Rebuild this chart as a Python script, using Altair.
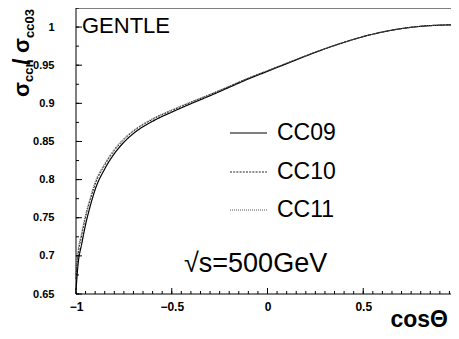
import altair as alt
import pandas as pd

# ---- data ----
cos_theta = [-1.0, -0.99, -0.97, -0.95, -0.925, -0.9, -0.85, -0.8, -0.75, -0.7,
             -0.6, -0.5, -0.4, -0.3, -0.2, -0.1, 0.0, 0.1, 0.2, 0.3, 0.4, 0.5,
             0.6, 0.7, 0.8, 0.9, 1.0]
cc09 = [0.655, 0.687, 0.716, 0.741, 0.766, 0.787, 0.814, 0.834, 0.849, 0.8605,
        0.8765, 0.8885, 0.8995, 0.910, 0.921, 0.932, 0.942, 0.952, 0.962, 0.9715,
        0.980, 0.9875, 0.9935, 0.998, 1.001, 1.0025, 1.003]
cc10 = [0.670, 0.699, 0.727, 0.751, 0.774, 0.794, 0.819, 0.838, 0.8525, 0.8635,
        0.879, 0.8905, 0.9013, 0.9115, 0.9222, 0.933, 0.9428, 0.9526, 0.9624, 0.9717,
        0.980, 0.9875, 0.9935, 0.998, 1.001, 1.0025, 1.003]
cc11 = [0.676, 0.705, 0.731, 0.754, 0.777, 0.797, 0.821, 0.840, 0.854, 0.8645,
        0.880, 0.8915, 0.902, 0.912, 0.9226, 0.9333, 0.943, 0.9528, 0.9625, 0.9718,
        0.980, 0.9875, 0.9935, 0.998, 1.001, 1.0025, 1.003]

x_ticks = [-1, -0.5, 0, 0.5, 1]
y_ticks = [0.65, 0.7, 0.75, 0.8, 0.85, 0.9, 0.95, 1.0]
x_minor = [round(-1 + 0.05 * i, 2) for i in range(41)]
y_minor = [round(0.65 + 0.025 * i, 3) for i in range(16)]

W, H = 375, 286      # visible plot area
XR = 383             # full x range (right end falls at the page edge)
FONT = "Liberation Sans"

xs = alt.Scale(domain=[-1, 1], range=[0, XR], nice=False, zero=False)
ys = alt.Scale(domain=[0.65, 1.025], nice=False, zero=False)

xax = alt.Axis(values=x_ticks, format="~g", labelFlush=False, labelPadding=7,
               labelFontSize=12, title=None)
yax = alt.Axis(values=y_ticks, format="~g", labelPadding=22, labelFontSize=11,
               title=None)

def curve(vals, dash, width, color):
    df = pd.DataFrame({"c": cos_theta, "v": vals})
    return alt.Chart(df).mark_line(
        color=color, strokeWidth=width, strokeDash=dash, interpolate="monotone"
    ).encode(
        x=alt.X("c:Q", scale=xs, axis=xax),
        y=alt.Y("v:Q", scale=ys, axis=yax),
    )

l09 = curve(cc09, [1, 0], 1.2, "black")
l10 = curve(cc10, [2, 1.2], 1.0, "#222222")
l11 = curve(cc11, [1, 1], 1.0, "#555555")

# inward ticks
def xtick_layer(vals, length):
    return alt.Chart(pd.DataFrame({"t": vals})).mark_rule(color="black", strokeWidth=1).encode(
        x=alt.X("t:Q", scale=xs, axis=xax), y=alt.value(H), y2=alt.value(H - length))

def ytick_layer(vals, length):
    return alt.Chart(pd.DataFrame({"t": vals})).mark_rule(color="black", strokeWidth=1).encode(
        y=alt.Y("t:Q", scale=ys, axis=yax), x=alt.value(0), x2=alt.value(length))

ticks = [xtick_layer(x_minor, 3), xtick_layer(x_ticks, 6),
         ytick_layer(y_minor, 3), ytick_layer(y_ticks, 6)]

one = alt.Data(values=[{}])

def frame_h(y):
    return alt.Chart(one).mark_rule(color="black", strokeWidth=1).encode(
        x=alt.value(0), x2=alt.value(XR), y=alt.value(y))

frame = [
    frame_h(0), frame_h(H),
    alt.Chart(one).mark_rule(color="black", strokeWidth=1).encode(
        x=alt.value(0), y=alt.value(0), y2=alt.value(H)),
]

def txt(text, x, y, size, weight="normal", align="left", angle=0, baseline="alphabetic"):
    return alt.Chart(one).mark_text(
        text=text, font=FONT, fontSize=size, fontWeight=weight, align=align,
        baseline=baseline, angle=angle, color="black"
    ).encode(x=alt.value(x), y=alt.value(y))

def leg_line(y, dash, width, color):
    return alt.Chart(one).mark_rule(color=color, strokeWidth=width, strokeDash=dash).encode(
        x=alt.value(154), x2=alt.value(191), y=alt.value(y))

legend = [
    leg_line(125, [1, 0], 1.2, "black"), txt("CC09", 201, 125, 23, baseline="middle"),
    leg_line(164, [2, 1.2], 1.0, "#222222"), txt("CC10", 201, 164, 23, baseline="middle"),
    leg_line(202, [1, 1], 1.0, "#555555"), txt("CC11", 201, 202, 23, baseline="middle"),
]

labels = [
    txt("GENTLE", 6, 25, 22),
    txt("√s=500GeV", 108, 264, 27),
    txt("cosΘ", 372, 319, 23, weight="bold", align="right"),
    # y title: sigma_ccn / sigma_cc03, rotated
    txt("σ", -47, 89, 22, weight="bold", angle=270),
    txt("ccn", -43, 74, 13, weight="bold", angle=270),
    txt("/", -46, 57, 23, weight="bold", angle=270),
    txt("σ", -47, 45, 22, weight="bold", angle=270),
    txt("cc03", -42, 30, 13, weight="bold", angle=270),
]

chart = alt.layer(l09, l10, l11, *ticks, *frame, *legend, *labels).properties(
    width=W, height=H,
    autosize=alt.AutoSizeParams(type="none"),
    padding={"left": 68, "top": 0, "right": 0, "bottom": 37},
).configure_view(stroke=None).configure_axis(
    domain=False, ticks=False, grid=False, labelFont=FONT, labelFontWeight="bold",
    labelColor="black"
)

chart.save("out.html", embed_options={"renderer": "svg", "actions": False})
